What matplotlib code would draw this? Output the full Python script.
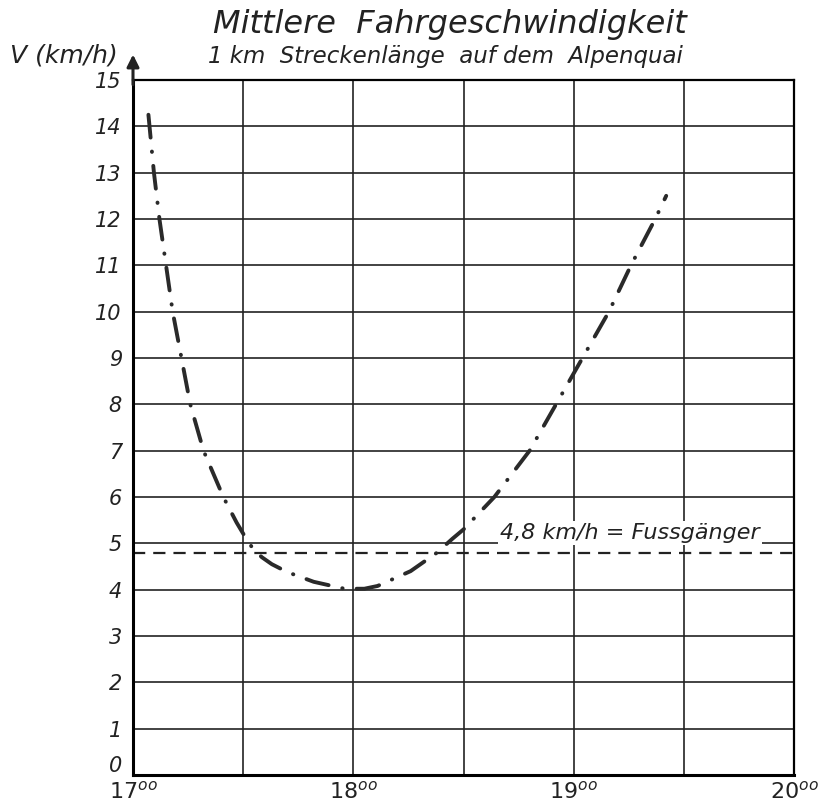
import matplotlib
matplotlib.use('Agg')
import matplotlib.pyplot as plt
from matplotlib.transforms import ScaledTranslation

# Mittlere Fahrgeschwindigkeit, Alpenquai
zeit = [17.07, 17.095, 17.12, 17.15, 17.18, 17.22, 17.26, 17.32, 17.41, 17.47,
        17.52, 17.55, 17.585, 17.63, 17.70, 17.82, 17.96, 18.05, 18.11, 18.26,
        18.38, 18.45, 18.50, 18.56, 18.64, 18.72, 18.80, 18.92, 19.04, 19.16,
        19.26, 19.37, 19.42]
geschw = [14.25, 13, 12, 11, 10, 9, 8, 7, 6, 5.45,
          5.05, 4.85, 4.7, 4.55, 4.38, 4.17, 4.02, 4.02, 4.08, 4.4,
          4.8, 5.1, 5.3, 5.6, 6.0, 6.5, 7, 8, 9, 10,
          11, 12, 12.5]

fussgaenger = 4.8
x_ticks = [17, 18, 19, 20]
x_labels = [r'$\mathit{17}^{\mathit{oo}}$', r'$\mathit{18}^{\mathit{oo}}$',
            r'$\mathit{19}^{\mathit{oo}}$', r'$\mathit{20}^{\mathit{oo}}$']
y_ticks = list(range(0, 16))

plt.rcParams['font.family'] = ['DejaVu Sans']
plt.rcParams['mathtext.fontset'] = 'dejavusans'

fig = plt.figure(figsize=(8.22, 8.02), dpi=100)
ax = fig.add_axes([133 / 822, 1 - 775 / 802, (794 - 133) / 822, (775 - 80) / 802])

ax.set_xlim(17, 20)
ax.set_ylim(0, 15)

# grid every half hour / every km/h
for x in [17.5, 18, 18.5, 19, 19.5]:
    ax.axvline(x, color='#222222', lw=1.2, zorder=1)
for y in range(1, 15):
    ax.axhline(y, color='#222222', lw=1.2, zorder=1)

for s in ['left', 'bottom']:
    ax.spines[s].set_linewidth(2.2)
for s in ['top', 'right']:
    ax.spines[s].set_linewidth(1.6)

ax.set_xticks(x_ticks)
ax.set_xticklabels(x_labels, fontsize=16, color='#222222')
ax.set_yticks(y_ticks)
ax.set_yticklabels([str(v) for v in y_ticks], fontsize=15, style='italic', color='#222222')
ax.tick_params(length=0, pad=8)
ax.tick_params(axis='x', pad=4)
# lift the "0" a little, like in the drawing
lbl0 = ax.get_yticklabels()[0]
lbl0.set_transform(lbl0.get_transform() + ScaledTranslation(0, 8 / 72, fig.dpi_scale_trans))

# Fussgaenger line
ax.axhline(fussgaenger, color='#222222', lw=1.6, linestyle=(0, (5.5, 3.6)), zorder=2)
ax.text(19.255, 5.22, '4,8 km/h = Fussgänger', fontsize=16, style='italic',
        ha='center', va='center', color='#222222', zorder=3,
        bbox=dict(facecolor='white', edgecolor='none', pad=1.5))

# speed curve
ax.plot(zeit, geschw, color='#2a2a2a', lw=2.8, linestyle=(0, (5.9, 3.6, 0.1, 3.6)),
        dash_capstyle='round', zorder=4)

# y axis arrow
ax.annotate('', xy=(17, 15.55), xytext=(17, 14.9), annotation_clip=False,
            arrowprops=dict(arrowstyle='-|>', color='#222222', lw=2.2,
                            mutation_scale=18, shrinkA=0, shrinkB=0))

fig.text(64 / 822, 1 - 55 / 802, 'V (km/h)', fontsize=18, style='italic',
         ha='center', va='center', color='#222222')
fig.text(450 / 822, 1 - 25 / 802, 'Mittlere  Fahrgeschwindigkeit', fontsize=23,
         style='italic', ha='center', va='center', color='#222222')
fig.text(445 / 822, 1 - 57 / 802, '1 km  Streckenlänge  auf dem  Alpenquai', fontsize=16.5,
         style='italic', ha='center', va='center', color='#222222')

fig.savefig('out.png', dpi=100, facecolor='white')
